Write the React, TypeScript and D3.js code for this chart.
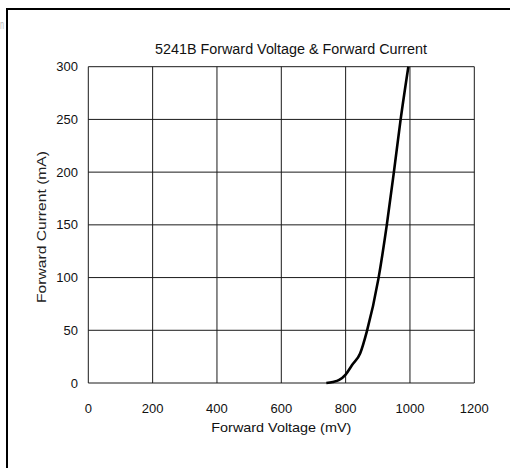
import React from "react";
import * as d3 from "d3";

const voltage = [740, 760, 780, 800, 820, 845, 866, 902, 928, 950, 971, 995];
const current = [0, 1, 3, 8, 17, 28, 49, 99, 150, 200, 250, 300];
const xTicks = [0, 200, 400, 600, 800, 1000, 1200];
const yTicks = [0, 50, 100, 150, 200, 250, 300];
const title = "5241B Forward Voltage & Forward Current";
const xTitle = "Forward Voltage (mV)";
const yTitle = "Forward Current (mA)";

export default function App() {
  const W = 510, H = 468;
  const left = 88.3, right = 474.3, top = 66.7, bottom = 383;
  const x = d3.scaleLinear().domain([0, 1200]).range([left, right]);
  const y = d3.scaleLinear().domain([0, 300]).range([bottom, top]);
  const pts = voltage.map((v, i) => [v, current[i]] as [number, number]);
  const line = d3.line<[number, number]>().x(d => x(d[0])).y(d => y(d[1])).curve(d3.curveMonotoneX);
  const font = "'Liberation Sans', Arial, sans-serif";
  return (
    <svg width={W} height={H} style={{ position: "absolute", left: 0, top: 0, background: "#fff" }} fontFamily={font}>
      <rect x={0} y={0} width={W} height={H} fill="#fff" />
      <text x={0} y={29} fontSize={13} fill="#bbb" textLength={4} lengthAdjust="spacingAndGlyphs">n</text>
      <rect x={7} y={9} width={W + 10} height={H + 10} fill="none" stroke="#000" strokeWidth={2} />
      {xTicks.map(t => (
        <line key={"gx" + t} x1={x(t)} x2={x(t)} y1={top} y2={bottom} stroke="#1a1a1a" strokeWidth={1} />
      ))}
      {yTicks.map(t => (
        <line key={"gy" + t} x1={left} x2={right} y1={y(t)} y2={y(t)} stroke="#1a1a1a" strokeWidth={1} />
      ))}
      {xTicks.map(t => (
        <text key={"tx" + t} x={x(t)} y={413} fontSize={13} textAnchor="middle" fill="#111">{t}</text>
      ))}
      {yTicks.map(t => (
        <text key={"ty" + t} x={78} y={y(t) + 4.5} fontSize={13} textAnchor="end" fill="#111">{t}</text>
      ))}
      <text x={(left + right) / 2} y={432} fontSize={13.5} textAnchor="middle" fill="#111" textLength={140} lengthAdjust="spacingAndGlyphs">{xTitle}</text>
      <text transform={`translate(46, 227) rotate(-90)`} fontSize={13} textAnchor="middle" fill="#222" textLength={152} lengthAdjust="spacingAndGlyphs">{yTitle}</text>
      <text x={291} y={53.5} fontSize={14} textAnchor="middle" fill="#111" textLength={272} lengthAdjust="spacingAndGlyphs">{title}</text>
      <path d={line(pts) || ""} fill="none" stroke="#000" strokeWidth={2.6} strokeLinejoin="round" />
    </svg>
  );
}
